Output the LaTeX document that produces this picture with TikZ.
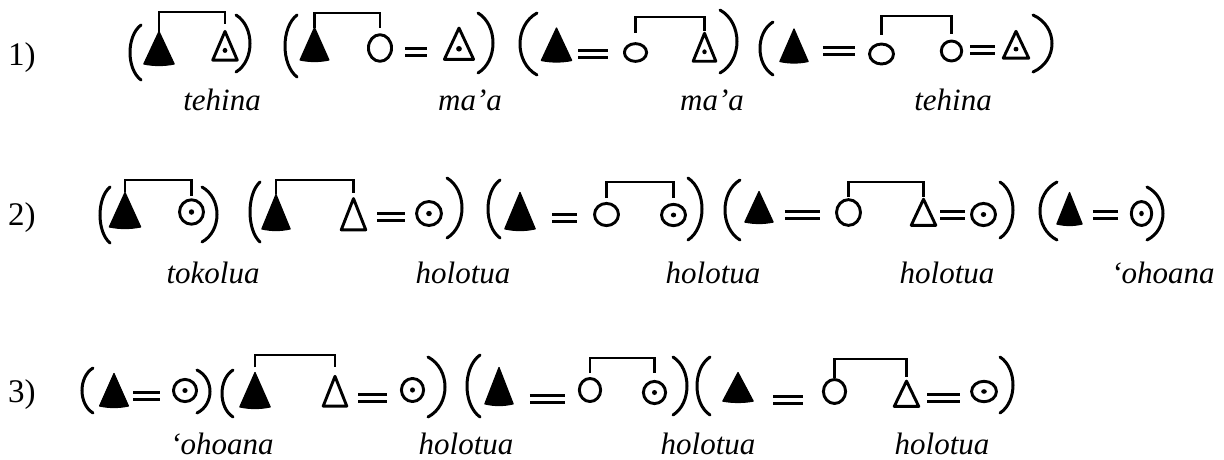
\documentclass[tikz,border=0pt]{standalone}
\usepackage{fontspec}
\setmainfont{Liberation Serif}
\tikzset{
  sym/.style={line width=2.9pt, line join=round, line cap=round},
  bk/.style={line width=2.7pt},
  par/.style={line width=3pt, line cap=round},
  eq/.style={line width=2.7pt, double=white, double distance=4.6pt},
  lab/.style={font=\fontsize{31}{31}\selectfont\itshape, anchor=base, inner sep=0pt},
  num/.style={font=\fontsize{33}{33}\selectfont, anchor=base west, inner sep=0pt},
  ftri/.pic={\filldraw[line width=1.2pt, line join=round] (-15.2,15.5) .. controls (-5,17.5) and (5,17.5) .. (15.2,15.5) -- (0,-17) -- cycle;
    \coordinate (-top) at (0,-17); \coordinate (-l) at (-15,0); \coordinate (-r) at (15,0);},
  otri/.pic={\draw[sym] (-11.8,12.8) -- (0,-13.3) -- (11.8,12.8) -- cycle;
    \coordinate (-top) at (0,-15); \coordinate (-l) at (-13,0); \coordinate (-r) at (13,0);},
  otrid/.pic={\draw[sym] (-11.8,12.8) -- (0,-13.3) -- (11.8,12.8) -- cycle; \fill (0,4) circle (2.3);
    \coordinate (-top) at (0,-15); \coordinate (-l) at (-13,0); \coordinate (-r) at (13,0);},
  circ/.pic={\draw[sym] (0,0) circle (11.1);
    \coordinate (-top) at (0,-12.5); \coordinate (-l) at (-12.5,0); \coordinate (-r) at (12.5,0);},
  circd/.pic={\draw[sym] (0,0) circle (11.1); \fill (0,0) circle (2.5);
    \coordinate (-top) at (0,-12.5); \coordinate (-l) at (-12.5,0); \coordinate (-r) at (12.5,0);},
}
% left / right parenthesis: x-left, x-right, y-top, y-bottom
\newcommand\LP[4]{\draw[par] (#2,#3) .. controls ({#2-(#2-#1)*4/3},{#3+(#4-#3)/5}) and ({#2-(#2-#1)*4/3},{#4-(#4-#3)/5}) .. (#2,#4);}
\newcommand\RP[4]{\draw[par] (#1,#3) .. controls ({#1+(#2-#1)*4/3},{#3+(#4-#3)/5}) and ({#1+(#2-#1)*4/3},{#4-(#4-#3)/5}) .. (#1,#4);}
% sibling bracket: left, right, left gap, right gap, y
\newcommand\BK[5]{\draw[bk] ([yshift=#3pt]#1-top) -- (#1-top |- 0,#5) -| ([yshift=#4pt]#2-top);}
% marriage sign: left, right, y, shorten start, shorten end
\newcommand\EQ[5]{\draw[eq, shorten <=#4pt, shorten >=#5pt] (#1-r |- 0,#3) -- (#2-l |- 0,#3);}
\begin{document}
\begin{tikzpicture}[x=1pt, y=-1pt]
\fill[white] (0,0) rectangle (1224,459);
\useasboundingbox (0,0) rectangle (1224,459);

% ---------------- Row 1 ----------------
\node[num] (n1) at (8,65) {1)};
\LP{130}{141}{25}{80}
\pic (r1a) at (159,48.5) {ftri};
\pic[xscale=1.04, yscale=1.1] (r1b) at (225,46) {otrid};
\RP{236}{250}{15}{72}
\BK{r1a}{r1b}{0}{6}{12}

\LP{285}{297}{15}{77}
\pic[xscale=0.95] (r1c) at (314.5,44.5) {ftri};
\pic[xscale=1.04, yscale=1.2] (r1d) at (380,48) {circ};
\pic[xscale=1.24, yscale=1.2] (r1e) at (459,44) {otrid};
\RP{478}{493}{13}{73}
\BK{r1c}{r1d}{0}{5}{13}
\EQ{r1d}{r1e}{52}{12}{15.5}

\LP{520}{537}{13}{75}
\pic (r1f) at (556.5,45) {ftri};
\pic[yscale=0.8] (r1g) at (635.5,52.5) {circ};
\pic[xscale=0.96, yscale=1.07] (r1h) at (704.5,47.5) {otrid};
\RP{720}{737}{10}{73}
\BK{r1g}{r1h}{10}{0}{17}
\EQ{r1f}{r1g}{54}{6.5}{15}

\LP{760}{773}{22}{75}
\pic[xscale=0.93] (r1i) at (794,46) {ftri};
\pic[xscale=1.08, yscale=0.9] (r1j) at (881.5,54) {circ};
\pic[xscale=0.92, yscale=0.9] (r1k) at (951.5,51) {circ};
\pic[xscale=1.08, yscale=1.03] (r1l) at (1016,45) {otrid};
\RP{1033}{1052}{15}{72}
\BK{r1j}{r1k}{8}{6}{16}
\EQ{r1i}{r1j}{51}{15}{13}
\EQ{r1k}{r1l}{50}{7}{7}

\node[lab] (t1a) at (222,110) {tehina};
\node[lab] (t1b) at (470,110) {ma’a};
\node[lab] (t1c) at (712,110) {ma’a};
\node[lab] (t1d) at (953,110) {tehina};

% ---------------- Row 2 ----------------
\node[num] (n2) at (8,225) {2)};
\LP{100}{110}{187}{243}
\pic[xscale=1.03, yscale=1.06] (r2a) at (125,210.5) {ftri};
\pic[xscale=1.08, yscale=1.1] (r2b) at (191.5,212) {circd};
\RP{202}{217}{187}{242}
\BK{r2a}{r2b}{0}{2}{180}

\LP{250}{260}{182}{242}
\pic[xscale=0.93, yscale=1.06] (r2c) at (276,212.5) {ftri};
\pic[xscale=1.04, yscale=1.2] (r2d) at (353.5,214.5) {otri};
\pic[xscale=1.12, yscale=1.08] (r2e) at (429,213.5) {circd};
\RP{447}{462}{178}{238}
\BK{r2c}{r2d}{0}{4}{180}
\EQ{r2d}{r2e}{217}{10}{10}

\LP{488}{500}{180}{238}
\pic[yscale=1.12] (r2f) at (520,211.5) {ftri};
\pic[xscale=1.08] (r2g) at (606.5,214.5) {circ};
\pic[xscale=1.08, yscale=0.96] (r2h) at (673.5,215) {circd};
\RP{688}{702}{178}{240}
\BK{r2g}{r2h}{4}{5}{182}
\EQ{r2f}{r2g}{218}{17}{16}

\LP{725}{740}{180}{240}
\pic[xscale=0.93, yscale=0.94] (r2i) at (759,207.5) {ftri};
\pic[xscale=1.08, yscale=1.16] (r2j) at (848.5,212.5) {circ};
\pic[xscale=1.04] (r2k) at (923.5,212.5) {otri};
\pic[xscale=1.08] (r2l) at (983.5,214.5) {circd};
\RP{1000}{1013}{182}{238}
\BK{r2j}{r2k}{1}{1}{182}
\EQ{r2i}{r2j}{215}{12}{15}
\EQ{r2k}{r2l}{215}{3}{5}

\LP{1040}{1057}{182}{240}
\pic[xscale=0.83, yscale=0.97] (r2m) at (1069.5,209) {ftri};
\pic[xscale=0.92, yscale=1.08] (r2n) at (1141.5,213.5) {circd};
\RP{1147}{1163}{187}{240}
\EQ{r2m}{r2n}{215}{11}{12}

\node[lab] (t2a) at (213,283) {tokolua};
\node[lab] (t2b) at (463,283) {holotua};
\node[lab] (t2c) at (713,283) {holotua};
\node[lab] (t2d) at (947,283) {holotua};
\node[lab] (t2e) at (1163,283) {‘ohoana};

% ---------------- Row 3 ----------------
\node[num] (n3) at (8,402) {3)};
\LP{82}{93}{368}{413}
\pic[xscale=0.95] (r3a) at (114,390.5) {ftri};
\pic[xscale=1.04, yscale=1.0] (r3b) at (185,390.5) {circd};
\RP{197}{210}{370}{413}
\EQ{r3a}{r3b}{396}{5}{12}

\LP{222}{233}{370}{417}
\pic[yscale=1.06] (r3c) at (255,390.5) {ftri};
\pic[yscale=1.14] (r3d) at (335,391.5) {otri};
\pic[yscale=1.04] (r3e) at (412.5,390) {circd};
\RP{428}{445}{357}{417}
\BK{r3c}{r3d}{5}{7}{355}
\EQ{r3d}{r3e}{398}{10}{13}

\LP{467}{480}{355}{417}
\pic[xscale=0.93, yscale=1.12] (r3f) at (499,386.5) {ftri};
\pic[xscale=0.96, yscale=1.04] (r3g) at (590,390) {circ};
\pic (r3h) at (654.5,392.5) {circd};
\RP{673}{687}{357}{415}
\BK{r3g}{r3h}{4}{7}{358}
\EQ{r3f}{r3g}{399}{17}{13}

\LP{697}{710}{357}{415}
\pic[yscale=0.88] (r3i) at (738,387.5) {ftri};
\pic[yscale=1.08] (r3j) at (834.5,391.5) {circ};
\pic[xscale=1.04, yscale=0.97] (r3k) at (906.5,394) {otri};
\pic[xscale=1.12, yscale=0.92] (r3l) at (984,391.5) {circd};
\RP{1000}{1013}{357}{413}
\BK{r3j}{r3k}{0}{2}{359}
\EQ{r3i}{r3j}{400}{20}{19}
\EQ{r3k}{r3l}{398}{7}{10}

\node[lab] (t3a) at (222,454) {‘ohoana};
\node[lab] (t3b) at (466,454) {holotua};
\node[lab] (t3c) at (708,454) {holotua};
\node[lab] (t3d) at (942,454) {holotua};
\end{tikzpicture}
\end{document}
